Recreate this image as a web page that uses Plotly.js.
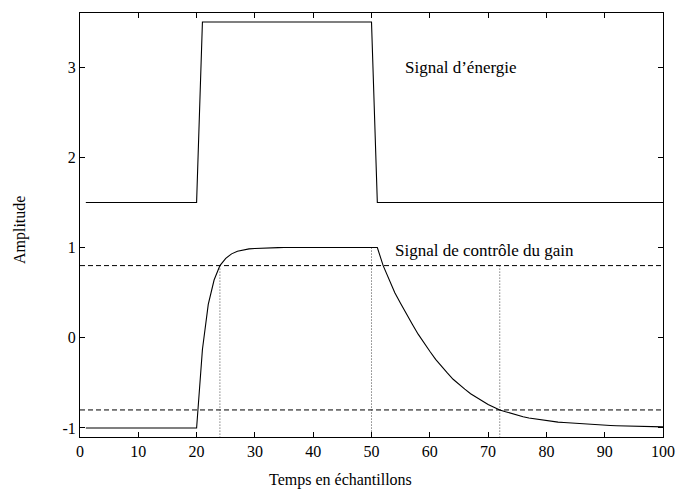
<!DOCTYPE html>
<html>
<head>
<meta charset="utf-8">
<script src="https://cdn.plot.ly/plotly-3.0.1.min.js"></script>
<style>html,body{margin:0;padding:0;background:#fff;}#chart{width:678px;height:493px;}</style>
</head>
<body>
<div id="chart"></div>
<script>
// Energy signal (sample index, amplitude) at its break points
const energyX = [1, 20, 21, 50, 51, 100];
const energyY = [1.5, 1.5, 3.5, 3.5, 1.5, 1.5];

// Gain control signal
const gainX = [1, 20, 21, 22, 23, 24, 25, 26, 27, 28, 29, 30, 31, 32, 33, 34, 35, 50,
  51, 52, 53, 54, 55, 56, 57, 58, 59, 60, 61, 62, 63, 64, 65, 66, 67, 68, 69, 70,
  71, 72, 73, 74, 75, 76, 77, 78, 79, 80, 81, 82, 83, 84, 85, 86, 87, 88, 89, 90,
  91, 92, 93, 94, 95, 96, 97, 98, 99, 100];
const gainY = [-1, -1, -0.13, 0.37, 0.64, 0.80, 0.88, 0.93, 0.96, 0.975, 0.985, 0.99, 0.994, 0.996, 0.998, 0.999, 1, 1,
  1, 0.80, 0.64, 0.50, 0.38, 0.26, 0.15, 0.04, -0.06, -0.15, -0.24, -0.32, -0.39, -0.46, -0.52, -0.57, -0.62, -0.66, -0.70, -0.74,
  -0.77, -0.80, -0.82, -0.84, -0.86, -0.875, -0.89, -0.90, -0.91, -0.92, -0.93, -0.935, -0.94, -0.945, -0.95, -0.955, -0.96, -0.963, -0.966, -0.969,
  -0.972, -0.975, -0.977, -0.979, -0.981, -0.983, -0.985, -0.986, -0.987, -0.988];

// Thresholds (dashed) and crossing markers (dotted)
const thresholds = [0.8, -0.8];
const markX = [24, 50, 72];
const markTop = [0.8, 1, 0.8];

const xTicks = [0, 10, 20, 30, 40, 50, 60, 70, 80, 90, 100];
const yTicks = [-1, 0, 1, 2, 3];
const xRange = [0, 100];
const yRange = [-1.1, 3.6];

const labels = ['Signal d\u2019énergie', 'Signal de contrôle du gain'];
const labelX = [55.4, 53.7];
const labelY = [3.0, 0.97];

const font = '"Liberation Serif", "DejaVu Serif", serif';
const traces = [];
thresholds.forEach(t => traces.push({
  x: xRange, y: [t, t], mode: 'lines', hoverinfo: 'skip',
  line: {color: '#000', width: 1, dash: '5px,3px'}
}));
markX.forEach((mx, i) => traces.push({
  x: [mx, mx], y: [markTop[i], yRange[0]], mode: 'lines', hoverinfo: 'skip',
  line: {color: '#444', width: 1, dash: '1px,2px'}
}));
traces.push({x: energyX, y: energyY, mode: 'lines', line: {color: '#000', width: 1.1}});
traces.push({x: gainX, y: gainY, mode: 'lines', line: {color: '#000', width: 1.1}});

const annotations = labels.map((t, i) => ({
  x: labelX[i], y: labelY[i], xref: 'x', yref: 'y', text: t, showarrow: false,
  xanchor: 'left', yanchor: 'middle', font: {family: font, size: 17, color: '#000'}
}));
annotations.push({
  x: 0.446, y: -0.102, xref: 'paper', yref: 'paper', text: 'Temps en échantillons',
  showarrow: false, xanchor: 'center', yanchor: 'middle', font: {family: font, size: 16, color: '#000'}
});
annotations.push({
  x: -0.103, y: 0.488, xref: 'paper', yref: 'paper', text: 'Amplitude', textangle: -90,
  showarrow: false, xanchor: 'center', yanchor: 'middle', font: {family: font, size: 16, color: '#000'}
});

const axisCommon = {
  showgrid: false, zeroline: false, showline: true, linecolor: '#000', linewidth: 1,
  mirror: 'ticks', ticks: 'inside', ticklen: 5, tickcolor: '#000', tickwidth: 1,
  tickfont: {family: font, size: 16, color: '#000'}
};
const layout = {
  width: 678, height: 493,
  margin: {l: 80, r: 15, t: 13, b: 56},
  paper_bgcolor: '#fff', plot_bgcolor: '#fff',
  showlegend: false,
  xaxis: Object.assign({}, axisCommon, {range: xRange, tickvals: xTicks, ticktext: xTicks.map(String)}),
  yaxis: Object.assign({}, axisCommon, {range: yRange, tickvals: yTicks, ticktext: yTicks.map(String)}),
  annotations: annotations
};
Plotly.newPlot('chart', traces, layout, {displayModeBar: false, staticPlot: true});
</script>
</body>
</html>
